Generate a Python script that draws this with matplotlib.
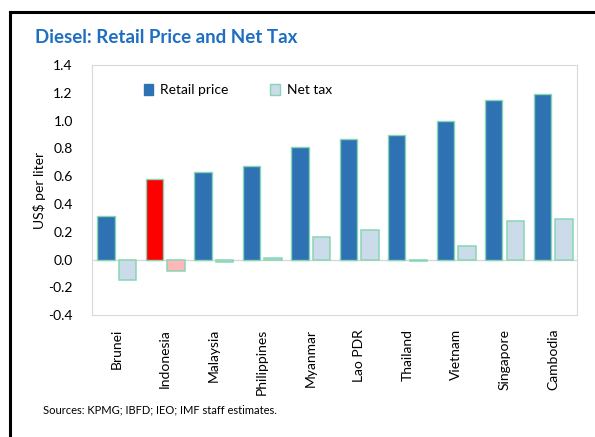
import matplotlib.pyplot as plt
import numpy as np
from matplotlib.lines import Line2D

countries = ["Brunei", "Indonesia", "Malaysia", "Philippines", "Myanmar",
             "Lao PDR", "Thailand", "Vietnam", "Singapore", "Cambodia"]
retail_price = [0.31, 0.58, 0.63, 0.67, 0.81, 0.87, 0.90, 1.00, 1.15, 1.19]
net_tax = [-0.15, -0.08, -0.02, 0.01, 0.16, 0.21, -0.01, 0.10, 0.28, 0.29]
highlight = "Indonesia"

plt.rcParams['font.family'] = ['Lato', 'DejaVu Sans']

fig = plt.figure(figsize=(5.95, 4.37), dpi=100)
ax = fig.add_axes([0.155, 0.279, 0.815, 0.572])

x = np.arange(len(countries))
w = 0.36
blue, green_edge = "#2E72B4", "#86D6B4"
r_colors = ["#FF0000" if c == highlight else blue for c in countries]
t_colors = ["#FFB8B8" if c == highlight else "#CCDBEA" for c in countries]

ax.bar(x - 0.22, retail_price, w, color=r_colors, edgecolor=green_edge, linewidth=1, label="Retail price")
ax.bar(x + 0.23, net_tax, w, color=t_colors, edgecolor=green_edge, linewidth=1.1, label="Net tax")
ax.axhline(0, color="#D9D9D9", linewidth=1, zorder=0)

ax.set_xlim(-0.5, len(countries) - 0.5)
ax.set_ylim(-0.4, 1.4)
ax.set_yticks(np.arange(-0.4, 1.41, 0.2))
ax.set_yticklabels([f"{v:.1f}" for v in np.arange(-0.4, 1.41, 0.2)], fontsize=10)
ax.set_xticks(x)
ax.set_xticklabels(countries, rotation=90, fontsize=10)
ax.tick_params(length=0, pad=10)
ax.tick_params(axis="y", pad=14)
ax.set_ylabel("US$ per liter", fontsize=10, labelpad=2)
for s in ax.spines.values():
    s.set_color("#D9D9D9")

handles = [plt.Rectangle((0, 0), 1, 1, color=blue),
           plt.Rectangle((0, 0), 1, 1, facecolor="#CCDBEA", edgecolor=green_edge, linewidth=1)]
ax.legend(handles, ["Retail price", "Net tax"], ncol=2, frameon=False, fontsize=10,
          loc="upper left", bbox_to_anchor=(0.08, 0.975), handlelength=0.7, handleheight=0.9,
          columnspacing=3.0, handletextpad=0.5)

fig.text(0.059, 0.915, "Diesel: Retail Price and Net Tax", fontsize=13.5, fontweight="bold",
         color="#1F6EC1", va="center")
fig.text(0.072, 0.062, "Sources: KPMG; IBFD; IEO; IMF staff estimates.", fontsize=8, va="center")

fig.add_artist(Line2D([0.016, 0.016], [0, 0.972], color="black", linewidth=2.2, transform=fig.transFigure))
fig.add_artist(Line2D([0.016, 1.0], [0.972, 0.972], color="black", linewidth=2.2, transform=fig.transFigure))

fig.savefig("out.png", dpi=100)
